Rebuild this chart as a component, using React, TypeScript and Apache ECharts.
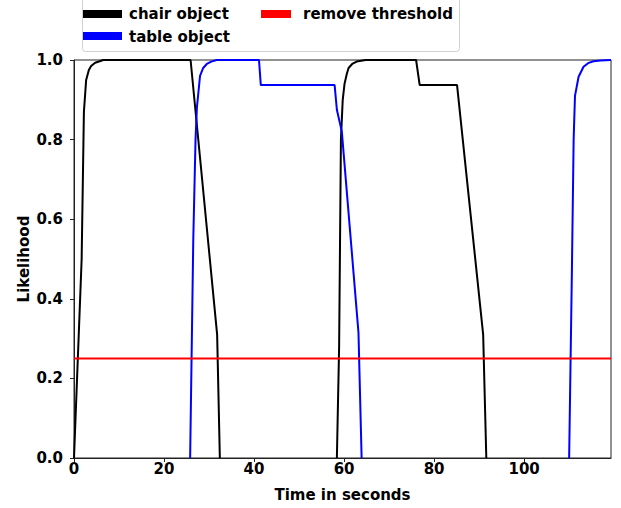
import React, { useEffect, useRef } from "react";
import * as echarts from "echarts";

const chairTime: (number | null)[] = [0, 1.7, 2.2, 2.7, 3.3, 3.8, 4.7, 5.7, 6.5, 25.9, 31.8, 32.4, null, 58.4, 58.9, 59.3, 59.7, 60.1, 60.6, 61.0, 61.8, 62.8, 64.8, 76.0, 76.8, 85.1, 90.9, 91.6];
const chairValue: (number | null)[] = [0, 0.5, 0.87, 0.95, 0.975, 0.985, 0.993, 0.997, 1.0, 1.0, 0.31, 0, null, 0, 0.28, 0.8, 0.9, 0.94, 0.965, 0.98, 0.99, 0.996, 1.0, 1.0, 0.937, 0.937, 0.31, 0];

const tableTime: (number | null)[] = [25.8, 26.5, 27.0, 27.3, 28.0, 28.7, 29.5, 30.5, 31.7, 41.1, 41.5, 57.9, 58.4, 59.5, 63.2, 63.9, null, 110.0, 110.6, 111.0, 111.3, 112.1, 113.2, 114.2, 115.4, 117.0, 119.3];
const tableValue: (number | null)[] = [0, 0.55, 0.8, 0.88, 0.96, 0.98, 0.99, 0.996, 1.0, 1.0, 0.937, 0.937, 0.875, 0.82, 0.315, 0, null, 0, 0.46, 0.8, 0.91, 0.958, 0.983, 0.992, 0.997, 0.999, 1.0];

const thresholdTime = [0, 119.3];
const thresholdValue = [0.25, 0.25];

const xTicks = [0, 20, 40, 60, 80, 100];
const yTicks = [0, 0.2, 0.4, 0.6, 0.8, 1.0];

const seriesNames = ["chair object", "table object", "remove threshold"];
const seriesColors = ["#000000", "#0000ff", "#ff0000"];

const FONT = "DejaVu Sans";
const FS = 15;

function pairs(xs: (number | null)[], ys: (number | null)[]) {
  return xs.map((x, i) => (x === null || ys[i] === null ? [null, null] : [x, ys[i]]));
}

export default function App() {
  const ref = useRef<HTMLDivElement>(null);
  useEffect(() => {
    if (!ref.current) return;
    const chart = echarts.init(ref.current, undefined, { renderer: "svg" });
    const textStyle = { fontFamily: FONT, fontWeight: "bold" as const, fontSize: FS, color: "#000" };
    const legendFont = `bold ${FS}px "${FONT}"`;
    chart.setOption({
      animation: false,
      backgroundColor: "#fff",
      grid: {
        left: 74,
        top: 60,
        width: 537,
        height: 398,
        show: true,
        borderColor: "#222",
        borderWidth: 1,
        backgroundColor: "transparent",
      },
      xAxis: {
        type: "value",
        min: 0,
        max: 119.3,
        interval: 20,
        name: "Time in seconds",
        nameLocation: "middle",
        nameGap: 29,
        nameMoveOverlap: false,
        nameTextStyle: textStyle,
        axisLine: { show: true, lineStyle: { color: "#222", width: 1 } },
        axisTick: { show: true, length: 4, lineStyle: { color: "#222" }, customValues: xTicks },
        axisLabel: { ...textStyle, margin: 3, customValues: xTicks, formatter: (v: number) => String(v) },
        splitLine: { show: false },
      },
      yAxis: {
        type: "value",
        min: 0,
        max: 1,
        interval: 0.2,
        name: "Likelihood",
        nameLocation: "middle",
        nameGap: 43,
        nameMoveOverlap: false,
        nameRotate: 90,
        nameTextStyle: textStyle,
        axisLine: { show: true, lineStyle: { color: "#222", width: 1 } },
        axisTick: { show: true, length: 4, lineStyle: { color: "#222" }, customValues: yTicks },
        axisLabel: { ...textStyle, margin: 11, customValues: yTicks, formatter: (v: number) => v.toFixed(1) },
        splitLine: { show: false },
      },
      series: [
        {
          name: seriesNames[0],
          type: "line",
          data: pairs(chairTime, chairValue),
          showSymbol: false,
          connectNulls: false,
          clip: false,
          lineStyle: { color: seriesColors[0], width: 2 },
          z: 2,
        },
        {
          name: seriesNames[1],
          type: "line",
          data: pairs(tableTime, tableValue),
          showSymbol: false,
          connectNulls: false,
          clip: false,
          lineStyle: { color: seriesColors[1], width: 2 },
          z: 3,
        },
        {
          name: seriesNames[2],
          type: "line",
          data: pairs(thresholdTime, thresholdValue),
          showSymbol: false,
          clip: false,
          lineStyle: { color: seriesColors[2], width: 2 },
          z: 4,
        },
      ],
      graphic: [
        {
          type: "rect",
          shape: { x: 82.5, y: -10, width: 377, height: 61.5, r: 3 },
          style: { fill: "rgba(255,255,255,0.8)", stroke: "#d0d0d0", lineWidth: 1 },
          z: 10,
        },
        { type: "rect", shape: { x: 83, y: 10, width: 39, height: 8 }, style: { fill: seriesColors[0] }, z: 11 },
        { type: "text", x: 129, y: 14, style: { text: seriesNames[0], font: legendFont, fill: "#000", verticalAlign: "middle" }, z: 11 },
        { type: "rect", shape: { x: 83, y: 32, width: 39, height: 8 }, style: { fill: seriesColors[1] }, z: 11 },
        { type: "text", x: 129, y: 36.5, style: { text: seriesNames[1], font: legendFont, fill: "#000", verticalAlign: "middle" }, z: 11 },
        { type: "rect", shape: { x: 261, y: 10, width: 30, height: 8 }, style: { fill: seriesColors[2] }, z: 11 },
        { type: "text", x: 303, y: 14, style: { text: seriesNames[2], font: legendFont, fill: "#000", verticalAlign: "middle" }, z: 11 },
      ],
    });
    return () => chart.dispose();
  }, []);
  return <div ref={ref} style={{ width: 621, height: 508, position: "absolute", left: 0, top: 0 }} />;
}
